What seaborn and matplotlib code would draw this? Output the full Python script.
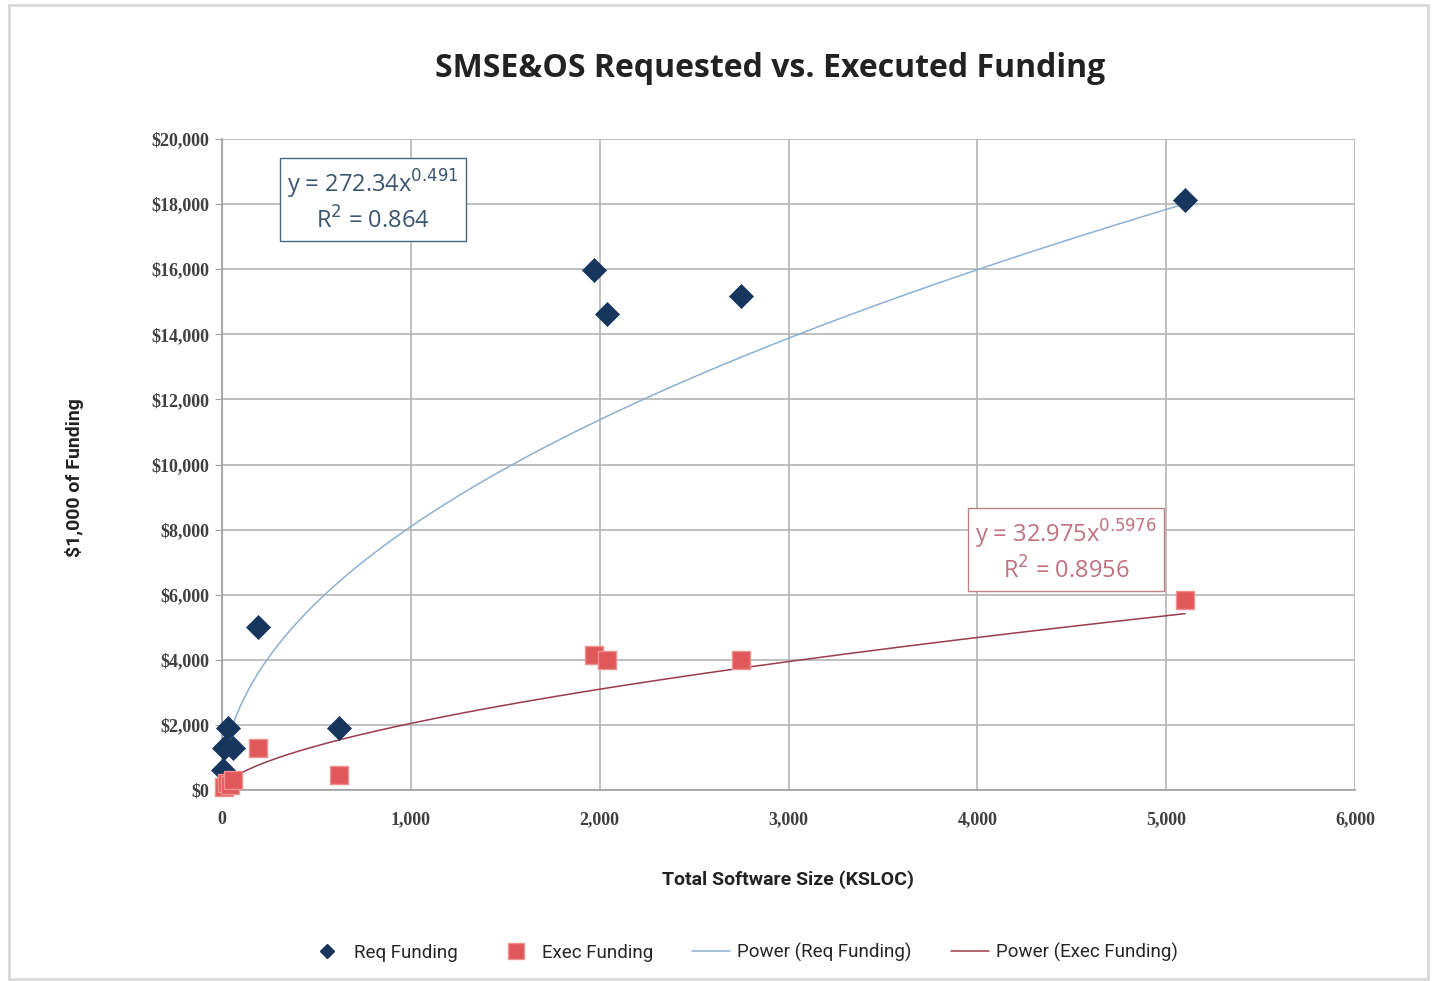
import numpy as np
import pandas as pd
import seaborn as sns
import matplotlib.pyplot as plt
from matplotlib.patches import Rectangle
from matplotlib.lines import Line2D

# values (KSLOC, $1,000 of funding)
req_ksloc = [5, 10, 32, 60, 190, 620, 1970, 2040, 2750, 5100]
req_funding = [600, 1300, 1900, 1300, 5020, 1900, 15980, 14630, 15180, 18130]
exec_ksloc = [10, 25, 40, 60, 190, 620, 1970, 2040, 2750, 5100]
exec_funding = [100, 200, 150, 300, 1300, 470, 4150, 3990, 3980, 5830]

# power trendlines as printed on the chart
req_a, req_b, req_r2 = 272.34, 0.491, 0.864
exec_a, exec_b, exec_r2 = 32.975, 0.5976, 0.8956

x_ticks = [0, 1000, 2000, 3000, 4000, 5000, 6000]
y_ticks = [0, 2000, 4000, 6000, 8000, 10000, 12000, 14000, 16000, 18000, 20000]

navy = '#17365d'
red = '#e0585a'
req_line_c = '#8db0d0'
exec_line_c = '#9b3b4e'
narrow = ['Roboto', 'DejaVu Sans']

sns.set_style('whitegrid')
plt.rcParams['font.family'] = ['Open Sans', 'DejaVu Sans']

req_df = pd.DataFrame({'ksloc': req_ksloc, 'funding': req_funding})
exec_df = pd.DataFrame({'ksloc': exec_ksloc, 'funding': exec_funding})

xs = np.linspace(30, 5100, 400)
fit_df = pd.DataFrame({'ksloc': xs,
                       'req': req_a * xs ** req_b,
                       'exec': exec_a * xs ** exec_b})

fig = plt.figure(figsize=(14.35, 9.81), dpi=100)
ax = fig.add_axes([0.1547, 0.1947, 0.7896, 0.6636])

sns.lineplot(data=fit_df, x='ksloc', y='req', ax=ax, color=req_line_c, lw=1.1)
sns.lineplot(data=fit_df, x='ksloc', y='exec', ax=ax, color=exec_line_c, lw=1.1)
sns.scatterplot(data=req_df, x='ksloc', y='funding', ax=ax, marker='D', s=150,
                color=navy, edgecolor=navy, linewidth=0.5, zorder=4, clip_on=False)
sns.scatterplot(data=exec_df, x='ksloc', y='funding', ax=ax, marker='s', s=170,
                color=red, edgecolor='#f09090', linewidth=1, zorder=4, clip_on=False)

ax.set_xlim(0, 6000)
ax.set_ylim(0, 20000)
ax.set_xticks(x_ticks)
ax.set_yticks(y_ticks)
ax.set_xticklabels([f'{v:,}' for v in x_ticks])
ax.set_yticklabels([f'${v:,}' for v in y_ticks])
for lab in ax.get_xticklabels() + ax.get_yticklabels():
    lab.set_family('Liberation Serif')
    lab.set_fontweight('bold')
    lab.set_fontsize(13)
    lab.set_color('#404040')
ax.tick_params(axis='y', length=5, color='#a0a0a0', pad=4, left=True)
ax.tick_params(axis='x', length=0, pad=15)
ax.grid(True, color='#b4b4b4', lw=1.2)
for side, sp in ax.spines.items():
    sp.set_visible(side in ('left', 'bottom'))
    sp.set_color('#a0a0a0')
    sp.set_linewidth(1.2)
ax.set_xlabel('')
ax.set_ylabel('')

# trendline equation boxes
ax.text(800, 18100, f'y = {req_a}x$^{{{req_b}}}$\nR$^2$ = {req_r2}', ha='center', va='center',
        fontsize=17, color='#3b5670', linespacing=1.3, zorder=6,
        bbox=dict(boxstyle='square,pad=0.3', fc='white', ec='#4a6580', lw=1))
ax.text(4470, 7350, f'y = {exec_a}x$^{{{exec_b}}}$\nR$^2$ = {exec_r2}', ha='center', va='center',
        fontsize=17, color='#c0707f', linespacing=1.3, zorder=6,
        bbox=dict(boxstyle='square,pad=0.3', fc='white', ec='#c08088', lw=1))

fig.text(0.537, 0.93, 'SMSE&OS Requested vs. Executed Funding', ha='center', va='center',
         fontsize=23, fontweight='bold', color='#222222')
fig.text(0.549, 0.103, 'Total Software Size (KSLOC)', ha='center', va='center',
         fontsize=14, fontweight='bold', color='#222222', family=narrow)
fig.text(0.052, 0.513, '$1,000 of Funding', ha='center', va='center', rotation=90,
         fontsize=14, fontweight='bold', color='#222222', family=narrow)

handles = [
    Line2D([], [], marker='D', ls='', color=navy, markersize=7),
    Line2D([], [], marker='s', ls='', color=red, markeredgecolor='#f09090', markersize=11),
    Line2D([], [], color=req_line_c, lw=1.1),
    Line2D([], [], color=exec_line_c, lw=1.1),
]
labels = ['Req Funding', 'Exec Funding', 'Power (Req Funding)', 'Power (Exec Funding)']
fig.legend(handles, labels, loc='center', bbox_to_anchor=(0.518, 0.029), ncol=4,
           frameon=False, prop={'family': narrow, 'size': 13.5}, columnspacing=2.1,
           handlelength=2.0, handletextpad=0.4)

fig.patches.append(Rectangle((0.006, 0.002), 0.989, 0.993, transform=fig.transFigure,
                             fill=False, ec='#d8d8d8', lw=2))

fig.savefig('out.png', dpi=100)
